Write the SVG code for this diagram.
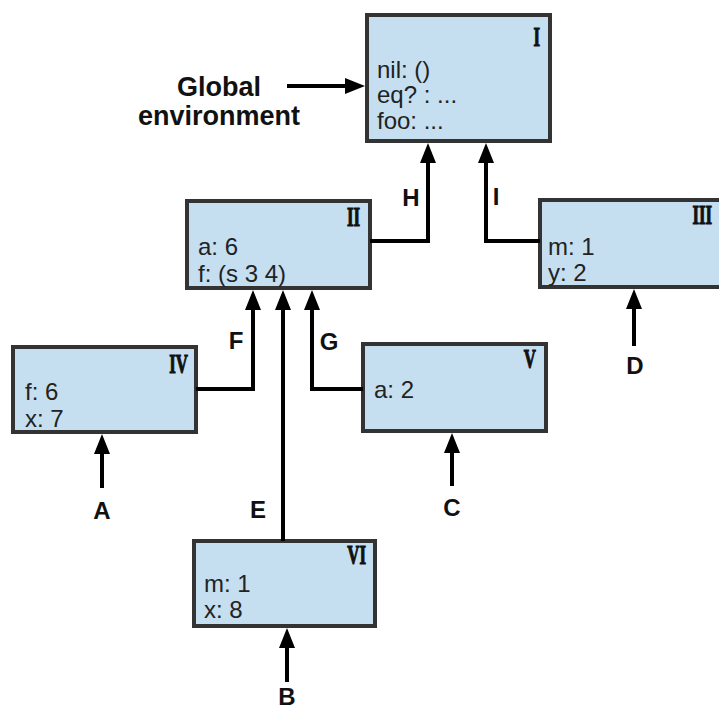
<svg xmlns="http://www.w3.org/2000/svg" width="719" height="711" viewBox="0 0 719 711">
  <style>
    .frame { fill: #c5dff1; stroke: #333333; stroke-width: 4; }
    .entry { font-family: "Liberation Sans", Arial, sans-serif; font-size: 24px; fill: #222222; }
    .roman { font-family: "Liberation Serif", "Times New Roman", serif; font-weight: bold; font-size: 28px; fill: #111111; stroke: #111111; stroke-width: 1.2; text-anchor: end; }
    .tag { font-family: "Liberation Sans", Arial, sans-serif; font-weight: bold; font-size: 24px; fill: #111111; text-anchor: middle; }
    .title { font-family: "Liberation Sans", Arial, sans-serif; font-weight: bold; font-size: 27px; fill: #111111; text-anchor: middle; }
    .wire { fill: none; stroke: #000000; stroke-width: 4; marker-end: url(#head); }
  </style>
  <defs>
    <marker id="head" viewBox="0 0 20 16" refX="10" refY="8" markerWidth="20" markerHeight="16" markerUnits="userSpaceOnUse" orient="auto">
      <path d="M0,0 L20,8 L0,16 z" fill="#000000"/>
    </marker>
  </defs>

  <rect width="719" height="711" fill="#ffffff"/>

  <!-- environment frames -->
  <g id="frame-I">
    <rect class="frame" x="367" y="15" width="183" height="126"/>
    <text class="roman" transform="translate(540,46) scale(0.6,1)">I</text>
    <text class="entry" x="377" y="78">nil: ()</text>
    <text class="entry" x="377" y="103">eq? : ...</text>
    <text class="entry" x="377" y="129">foo: ...</text>
  </g>

  <g id="frame-II">
    <rect class="frame" x="187" y="201" width="183" height="87"/>
    <text class="roman" transform="translate(360,226) scale(0.6,1)">II</text>
    <text class="entry" x="198" y="255">a: 6</text>
    <text class="entry" x="198" y="282">f: (s 3 4)</text>
  </g>

  <g id="frame-III">
    <rect class="frame" x="540" y="200" width="185" height="87"/>
    <text class="roman" transform="translate(712,224) scale(0.6,1)">III</text>
    <text class="entry" x="548" y="255">m: 1</text>
    <text class="entry" x="548" y="281">y: 2</text>
  </g>

  <g id="frame-IV">
    <rect class="frame" x="13" y="347" width="183" height="85"/>
    <text class="roman" transform="translate(188,373) scale(0.6,1)">IV</text>
    <text class="entry" x="25" y="400">f: 6</text>
    <text class="entry" x="25" y="427">x: 7</text>
  </g>

  <g id="frame-V">
    <rect class="frame" x="363" y="344" width="183" height="87"/>
    <text class="roman" transform="translate(536,368) scale(0.6,1)">V</text>
    <text class="entry" x="374" y="398">a: 2</text>
  </g>

  <g id="frame-VI">
    <rect class="frame" x="194" y="541" width="181" height="85"/>
    <text class="roman" transform="translate(366,564) scale(0.6,1)">VI</text>
    <text class="entry" x="204" y="592">m: 1</text>
    <text class="entry" x="204" y="618">x: 8</text>
  </g>

  <g id="global-label">
    <text class="title" x="219" y="96">Global</text>
    <text class="title" x="219" y="125">environment</text>
  </g>

  <!-- parent pointers and references -->
  <g id="connectors">
    <path class="wire" d="M287,86 H355"/>
    <path class="wire" d="M370,241 H428 V153"/>
    <path class="wire" d="M540,241 H486 V153"/>
    <path class="wire" d="M196,389 H253 V300"/>
    <path class="wire" d="M363,389 H312 V300"/>
    <path class="wire" d="M283,541 V300"/>
    <path class="wire" d="M102,488 V444"/>
    <path class="wire" d="M287,682 V638"/>
    <path class="wire" d="M452,486 V443"/>
    <path class="wire" d="M634,346 V299"/>
  </g>

  <g id="connector-labels">
    <text class="tag" x="411" y="206">H</text>
    <text class="tag" x="496" y="205">I</text>
    <text class="tag" x="236" y="349">F</text>
    <text class="tag" x="329" y="350">G</text>
    <text class="tag" x="258" y="518">E</text>
    <text class="tag" x="102" y="519">A</text>
    <text class="tag" x="452" y="516">C</text>
    <text class="tag" x="635" y="374">D</text>
    <text class="tag" x="287" y="705">B</text>
  </g>
</svg>
